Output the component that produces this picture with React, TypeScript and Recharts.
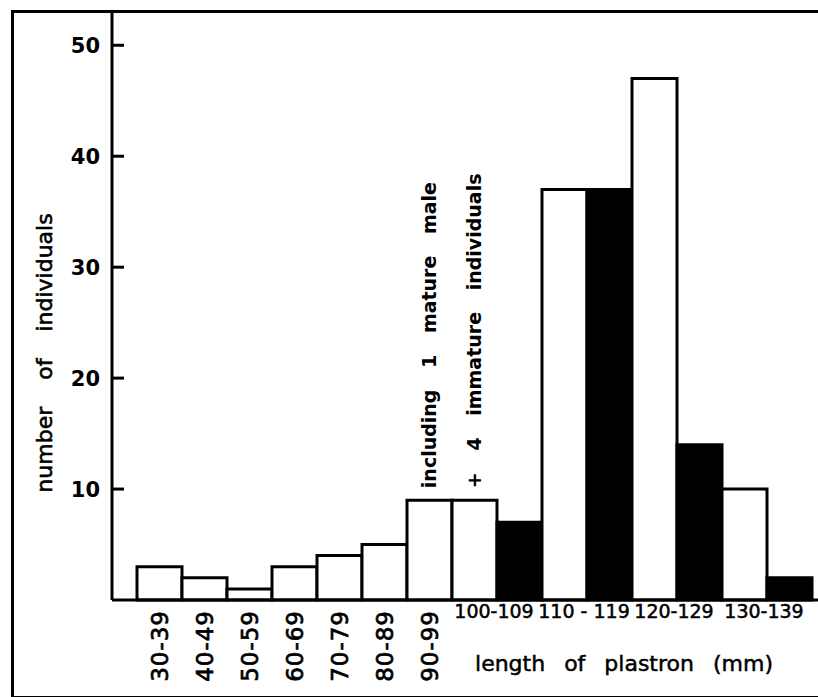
import { BarChart, Bar, XAxis, YAxis, Cell } from 'recharts'

// size classes of plastron length (mm)
const classes = ['30-39', '40-49', '50-59', '60-69', '70-79', '80-89', '90-99', '100-109', '110-119', '120-129', '130-139']
const classLabels = ['30-39', '40-49', '50-59', '60-69', '70-79', '80-89', '90-99', '100-109', '110 - 119', '120-129', '130-139']
// open bars and filled bars (filled ones only from 100-109 on)
const openCounts = [3, 2, 1, 3, 4, 5, 9, 9, 37, 47, 10]
const filledCounts = [null, null, null, null, null, null, null, 7, 37, 14, 2]
const yTicks = [10, 20, 30, 40, 50]
const noteMale = { cls: '90-99', text: 'including 1 mature male' }
const noteImmature = { cls: '100-109', text: '+ 4 immature individuals' }

type Slot = { slot: string; cls: number; count: number; filled: boolean; paired: boolean; note: string }

const table: Slot[] = []
classes.forEach((c, i) => {
    const paired = filledCounts[i] != null
    const note = c === noteMale.cls ? noteMale.text : c === noteImmature.cls ? noteImmature.text : ''
    table.push({ slot: c + '-o', cls: i, count: openCounts[i], filled: false, paired, note })
    if (paired) table.push({ slot: c + '-f', cls: i, count: filledCounts[i] as number, filled: true, paired, note: '' })
})

const W = 818
const H = 697
const Y_W = 112
const X_H = 97
const PAD_L = 25
const PAD_R = 6
const BAND = (W - Y_W - PAD_L - PAD_R) / table.length
const FONT = '"DejaVu Sans", sans-serif'

const SlotTick = (props: any) => {
    const { x, y, payload } = props
    const s = table[payload.index]
    if (!s) return null
    if (!s.paired) {
        const ty = y + 2
        return (
            <text x={x} y={ty} transform={`rotate(-90 ${x} ${ty})`} textAnchor="end" dy="0.36em"
                fontFamily={FONT} fontSize={23} fill="#000" stroke="#000" strokeWidth={0.7} letterSpacing={1}>
                {classLabels[s.cls]}
            </text>
        )
    }
    if (s.filled) return null
    return (
        <text x={x + BAND / 2 - 3} y={y + 10} textAnchor="middle" fontFamily={FONT} fontSize={19}
            fill="#000" stroke="#000" strokeWidth={0.5}>
            {classLabels[s.cls]}
        </text>
    )
}

const CountTick = (props: any) => {
    const { x, y, payload } = props
    return (
        <g>
            <path d={`M${x + 11},${y}H${x + 24}`} stroke="#000" strokeWidth={3} fill="none" />
            <text x={x} y={y} textAnchor="end" dy="0.36em" fontFamily={FONT} fontSize={21} fontWeight="bold" fill="#000">
                {payload.value}
            </text>
        </g>
    )
}

const renderNote = (props: any) => {
    const { x, y, width, index } = props
    const s = table[index]
    if (!s || !s.note) return null
    const cx = x + width / 2
    const ty = y - 12
    return (
        <text x={cx} y={ty} transform={`rotate(-90 ${cx} ${ty})`} textAnchor="start" dy="0.36em"
            fontFamily={FONT} fontSize={19} fontWeight="bold" fill="#000" style={{ wordSpacing: 15 }}>
            {s.note}
        </text>
    )
}

const PlastronChart = () => {
    return (
        <div style={{ position: 'absolute', left: 0, top: 0, width: W, height: H, overflow: 'hidden', background: '#fff' }}>
            <div style={{ position: 'absolute', left: 11, top: 10, width: 840, height: 683, border: '3px solid #000' }} />
            <BarChart width={W} height={H} data={table} margin={{ top: 12, right: 0, bottom: 0, left: 0 }}
                barCategoryGap={0} style={{ position: 'absolute', left: 0, top: 0 }}>
                <XAxis dataKey="slot" interval={0} height={X_H} tickLine={false} padding={{ left: PAD_L, right: PAD_R }}
                    axisLine={{ stroke: '#000', strokeWidth: 3 }} tick={<SlotTick />}
                    label={(p: any) => {
                        const vb = p.viewBox
                        return (
                            <text x={vb.x + 512} y={vb.y + 63} textAnchor="middle" dy="0.36em"
                                fontFamily={FONT} fontSize={22} fill="#000" stroke="#000" strokeWidth={0.5}
                                style={{ wordSpacing: 12 }}>
                                length of plastron (mm)
                            </text>
                        )
                    }} />
                <YAxis width={Y_W} domain={[0, 53]} ticks={yTicks} interval={0} tickSize={0} tickMargin={12}
                    axisLine={{ stroke: '#000', strokeWidth: 3 }} tickLine={false} tick={<CountTick />}
                    label={(p: any) => {
                        const vb = p.viewBox
                        const lx = vb.x + 44
                        const ly = vb.y + vb.height / 2 + 47
                        return (
                            <text x={lx} y={ly} transform={`rotate(-90 ${lx} ${ly})`} textAnchor="middle" dy="0.36em"
                                fontFamily={FONT} fontSize={22} fill="#000" stroke="#000" strokeWidth={0.6}
                                style={{ wordSpacing: 20 }}>
                                number of individuals
                            </text>
                        )
                    }} />
                <Bar dataKey="count" isAnimationActive={false} stroke="#000" strokeWidth={3} label={renderNote}>
                    {table.map((s) => (
                        <Cell key={s.slot} fill={s.filled ? '#000' : '#fff'} />
                    ))}
                </Bar>
            </BarChart>
        </div>
    )
}

export default PlastronChart
